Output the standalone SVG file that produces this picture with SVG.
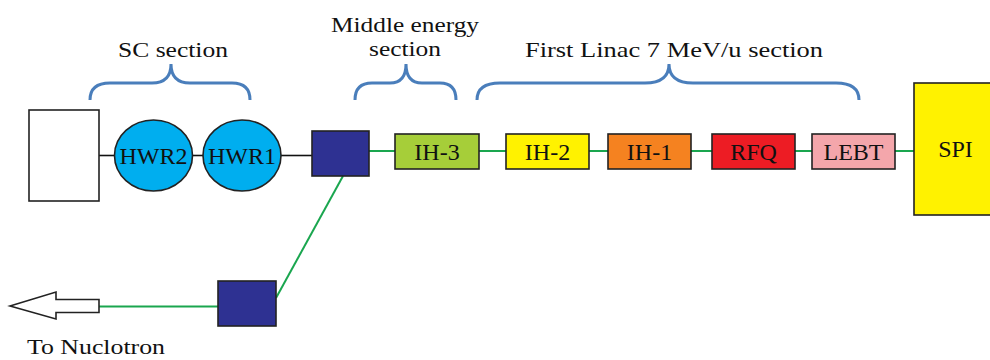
<svg xmlns="http://www.w3.org/2000/svg" width="990" height="360" viewBox="0 0 990 360">
<style>
text{font-family:'Liberation Serif','DejaVu Serif','Noto Serif','Tinos','Nimbus Roman','FreeSerif','Times New Roman',Times,serif;fill:#111}
.lbl{font-size:24px;text-anchor:middle}
.hdr{font-size:22px;text-anchor:middle}
.box{stroke:#222;stroke-width:1.6}
.brace{fill:none;stroke:#4a7ebb;stroke-width:3}
.gl{stroke:#1aa64f;stroke-width:2;fill:none}
.bl{stroke:#111;stroke-width:1.6;fill:none}
</style>
<rect width="990" height="360" fill="#fff"/>
<g id="connectors">
<line class="bl" x1="99" y1="155.5" x2="115" y2="155.5"/>
<line class="bl" x1="192" y1="155.5" x2="204" y2="155.5"/>
<line class="bl" x1="280" y1="155.5" x2="312" y2="155.5"/>
<line class="gl" x1="369" y1="151" x2="395" y2="151"/>
<line class="gl" x1="479" y1="151" x2="506" y2="151"/>
<line class="gl" x1="589" y1="151" x2="608" y2="151"/>
<line class="gl" x1="691" y1="151" x2="712" y2="151"/>
<line class="gl" x1="795" y1="151" x2="812" y2="151"/>
<line class="gl" x1="895" y1="151" x2="914" y2="151"/>
<line class="gl" x1="343" y1="176" x2="276" y2="298"/>
<line class="gl" x1="99" y1="306.5" x2="218" y2="306.5"/>
</g>
<g id="braces">
<path class="brace" d="M90,100 Q90,83 110,83 L152,83 Q171,83 171,64 Q171,83 190,83 L232,83 Q250,83 250,100"/>
<path class="brace" d="M355,100 Q355,83 372,83 L390,83 Q406,83 406,64 Q406,83 422,83 L440,83 Q456,83 456,100"/>
<path class="brace" d="M477,100 Q477,83 500,83 L645,83 Q669,83 669,64 Q669,83 693,83 L836,83 Q859,83 859,100"/>
<text class="hdr" x="173" y="57" textLength="110" lengthAdjust="spacingAndGlyphs" font-family="Liberation Serif, serif">SC section</text>
<text class="hdr" x="405" y="32" textLength="148" lengthAdjust="spacingAndGlyphs">Middle energy</text>
<text class="hdr" x="405" y="56" textLength="72" lengthAdjust="spacingAndGlyphs">section</text>
<text class="hdr" x="674" y="57" textLength="298" lengthAdjust="spacingAndGlyphs">First Linac 7 MeV/u section</text>
</g>
<g id="target"><rect class="box" x="29" y="110" width="70" height="91" fill="#fff"/></g>
<g id="hwr2"><ellipse class="box" cx="153.5" cy="155.5" rx="39" ry="35.5" fill="#00aeef"/><text class="lbl" x="153.5" y="164">HWR2</text></g>
<g id="hwr1"><ellipse class="box" cx="242" cy="155.5" rx="39" ry="35.5" fill="#00aeef"/><text class="lbl" x="242" y="164">HWR1</text></g>
<g id="bend1"><rect class="box" x="312" y="131" width="57" height="45" fill="#2e3192"/></g>
<g id="ih3"><rect class="box" x="395" y="134" width="84" height="35" fill="#a6ce39"/><text class="lbl" x="437" y="159.5">IH-3</text></g>
<g id="ih2"><rect class="box" x="506" y="134" width="83" height="35" fill="#fff200"/><text class="lbl" x="547.5" y="159.5">IH-2</text></g>
<g id="ih1"><rect class="box" x="608" y="134" width="83" height="35" fill="#f58220"/><text class="lbl" x="649.5" y="159.5">IH-1</text></g>
<g id="rfq"><rect class="box" x="712" y="134" width="83" height="35" fill="#ed1c24"/><text class="lbl" x="753.5" y="159.5">RFQ</text></g>
<g id="lebt"><rect class="box" x="812" y="134" width="83" height="35" fill="#f4a6ab"/><text class="lbl" x="853.5" y="159.5">LEBT</text></g>
<g id="spi"><rect class="box" x="914" y="83" width="82" height="132" fill="#fff200"/><text class="lbl" x="955.5" y="157">SPI</text></g>
<g id="bend2"><rect class="box" x="218" y="281" width="58" height="45" fill="#2e3192"/></g>
<g id="exit"><polygon class="box" points="10,306 56,292 56,299.5 99,299.5 99,312.5 56,312.5 56,319" fill="#fff"/>
<text class="hdr" x="96" y="354" textLength="138" lengthAdjust="spacingAndGlyphs">To Nuclotron</text></g>
</svg>
